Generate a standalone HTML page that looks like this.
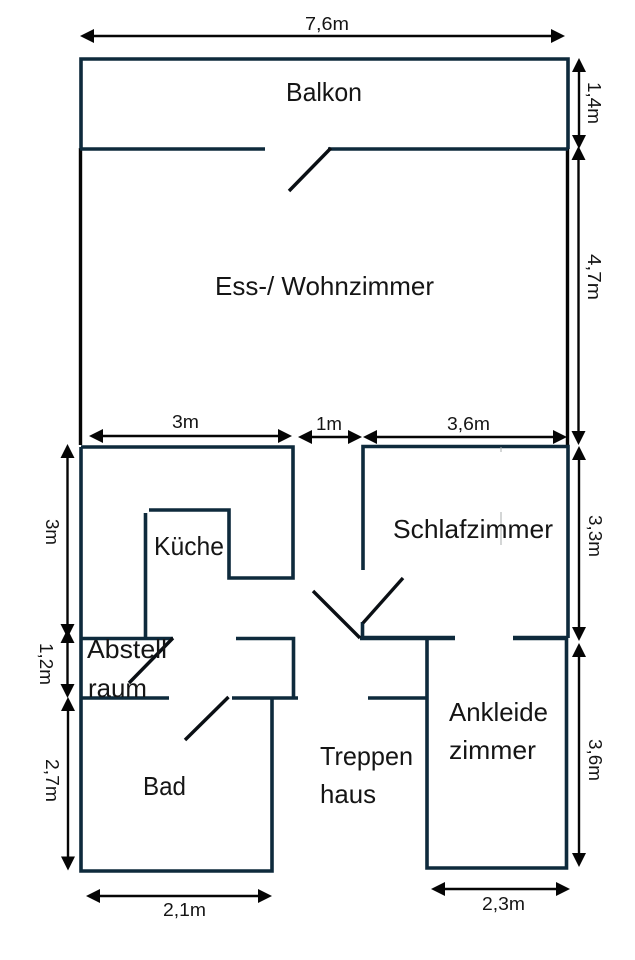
<!DOCTYPE html>
<html lang="de">
<head>
<meta charset="utf-8">
<title>Grundriss</title>
<style>
html,body{margin:0;padding:0;background:#fff;width:635px;height:960px;overflow:hidden}
svg{display:block;filter:blur(.3px)}
text{font-family:"Liberation Sans",sans-serif;fill:#151515}
.l{font-size:26px}
.s{font-size:18.5px}
.w{fill:none;stroke:#0e2a3c;stroke-width:3.6;stroke-linecap:butt;stroke-linejoin:miter}
.b{fill:none;stroke:#050505;stroke-width:3.4}
.d{stroke:#0a0f14;stroke-width:3.4;fill:none}
.a{stroke:#050505;stroke-width:2.4;fill:none}
.h{fill:#050505;stroke:none}
</style>
</head>
<body>
<svg width="635" height="960" viewBox="0 0 635 960" xmlns="http://www.w3.org/2000/svg">
<defs>
<polygon id="tip" class="h" points="0,0 -14,-7 -14,7"/>
</defs>

<!-- black walls of the living room -->
<path class="b" d="M80.5 148V445M567.5 148V446"/>

<!-- balcony -->
<path class="w" d="M81 149V59H568V149"/>
<path class="w" d="M80 149H265M328 149H568"/>
<path class="d" d="M331 148L289 191"/>

<!-- kitchen -->
<path class="w" d="M81 447H293V578H229V510H149"/>
<path class="w" d="M81 447V871H272V698"/>
<path class="w" d="M145.500 513V638"/>
<path class="w" d="M81 638.500H173"/>
<path class="d" d="M173 638L129 683"/>

<!-- storage / hall -->
<path class="w" d="M236 638.500H293.500V698"/>
<path class="w" d="M81 698H169M232 698H298"/>
<path class="d" d="M228.500 697L185 740"/>

<!-- bedroom -->
<path class="w" d="M363 570V446.500H568V638"/>
<path class="w" style="stroke-width:4.5" d="M360 638H455M513 638H568"/>
<path class="w" d="M362.500 638V622"/>
<path class="d" d="M313 591L360 638"/>
<path class="d" d="M363 623L403 578"/>
<path d="M501 512V545M501 447V452" stroke="#a8acae" stroke-width="1" fill="none"/>

<!-- dressing room -->
<path class="w" d="M427 638V868H566.500V638"/>
<path class="w" d="M368 698H427"/>

<!-- dimension arrows -->
<g>
<path class="a" d="M90 36H555"/><use href="#tip" transform="translate(565 36)"/><use href="#tip" transform="translate(80 36) rotate(180)"/>
<path class="a" d="M579 68V140"/><use href="#tip" transform="translate(579 58) rotate(-90)"/><use href="#tip" transform="translate(579 149) rotate(90)"/>
<path class="a" d="M578.500 155V436"/><use href="#tip" transform="translate(578.500 146) rotate(-90)"/><use href="#tip" transform="translate(578.500 445) rotate(90)"/>
<path class="a" d="M579 455V632"/><use href="#tip" transform="translate(579 446) rotate(-90)"/><use href="#tip" transform="translate(579 641) rotate(90)"/>
<path class="a" d="M579 652V858"/><use href="#tip" transform="translate(579 643) rotate(-90)"/><use href="#tip" transform="translate(579 867) rotate(90)"/>

<path class="a" d="M99 436H282"/><use href="#tip" transform="translate(292 436)"/><use href="#tip" transform="translate(89 436) rotate(180)"/>
<path class="a" d="M308 437H352"/><use href="#tip" transform="translate(362 437)"/><use href="#tip" transform="translate(298 437) rotate(180)"/>
<path class="a" d="M373 437H557"/><use href="#tip" transform="translate(567 437)"/><use href="#tip" transform="translate(363 437) rotate(180)"/>

<path class="a" d="M67.500 453V629"/><use href="#tip" transform="translate(67.500 444) rotate(-90)"/><use href="#tip" transform="translate(67.500 638) rotate(90)"/>
<path class="a" d="M67.500 638V689"/><use href="#tip" transform="translate(67.500 629) rotate(-90)"/><use href="#tip" transform="translate(67.500 698) rotate(90)"/>
<path class="a" d="M68 706V861"/><use href="#tip" transform="translate(68 697) rotate(-90)"/><use href="#tip" transform="translate(68 870.500) rotate(90)"/>

<path class="a" d="M96 896H262"/><use href="#tip" transform="translate(272 896)"/><use href="#tip" transform="translate(86 896) rotate(180)"/>
<path class="a" d="M441 889H560"/><use href="#tip" transform="translate(570 889)"/><use href="#tip" transform="translate(431 889) rotate(180)"/>
</g>

<!-- room labels -->
<text class="l" x="286" y="101" textLength="76" lengthAdjust="spacingAndGlyphs">Balkon</text>
<text class="l" x="215" y="295" textLength="219" lengthAdjust="spacingAndGlyphs">Ess-/ Wohnzimmer</text>
<text class="l" x="393" y="538" textLength="160" lengthAdjust="spacingAndGlyphs">Schlafzimmer</text>
<text class="l" x="154" y="555" textLength="70" lengthAdjust="spacingAndGlyphs">Küche</text>
<text class="l" x="87" y="658" textLength="80" lengthAdjust="spacingAndGlyphs">Abstell</text>
<text class="l" x="88" y="697" textLength="59" lengthAdjust="spacingAndGlyphs">raum</text>
<text class="l" x="143" y="795" textLength="43" lengthAdjust="spacingAndGlyphs">Bad</text>
<text class="l" x="320" y="765" textLength="93" lengthAdjust="spacingAndGlyphs">Treppen</text>
<text class="l" x="320" y="803" textLength="56" lengthAdjust="spacingAndGlyphs">haus</text>
<text class="l" x="449" y="721" textLength="99" lengthAdjust="spacingAndGlyphs">Ankleide</text>
<text class="l" x="449" y="759" textLength="87" lengthAdjust="spacingAndGlyphs">zimmer</text>

<!-- dimension labels -->
<text class="s" x="305" y="30" textLength="44" lengthAdjust="spacingAndGlyphs">7,6m</text>
<text class="s" x="172" y="428" textLength="27" lengthAdjust="spacingAndGlyphs">3m</text>
<text class="s" x="316" y="430" textLength="26" lengthAdjust="spacingAndGlyphs">1m</text>
<text class="s" x="447" y="430" textLength="43" lengthAdjust="spacingAndGlyphs">3,6m</text>
<text class="s" x="163" y="916" textLength="43" lengthAdjust="spacingAndGlyphs">2,1m</text>
<text class="s" x="482" y="910" textLength="43" lengthAdjust="spacingAndGlyphs">2,3m</text>

<text class="s" transform="translate(588 82) rotate(90)" textLength="42" lengthAdjust="spacingAndGlyphs">1,4m</text>
<text class="s" transform="translate(588 254) rotate(90)" textLength="46" lengthAdjust="spacingAndGlyphs">4,7m</text>
<text class="s" transform="translate(589 515) rotate(90)" textLength="42" lengthAdjust="spacingAndGlyphs">3,3m</text>
<text class="s" transform="translate(589 739) rotate(90)" textLength="42" lengthAdjust="spacingAndGlyphs">3,6m</text>
<text class="s" transform="translate(46 519) rotate(90)" textLength="26" lengthAdjust="spacingAndGlyphs">3m</text>
<text class="s" transform="translate(40 643) rotate(90)" textLength="42" lengthAdjust="spacingAndGlyphs">1,2m</text>
<text class="s" transform="translate(46 759) rotate(90)" textLength="43" lengthAdjust="spacingAndGlyphs">2,7m</text>
</svg>
</body>
</html>
